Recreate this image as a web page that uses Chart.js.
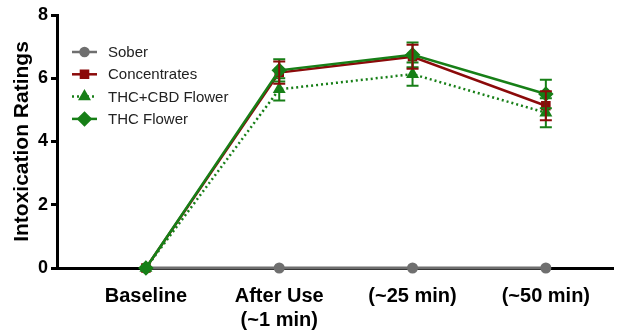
<!DOCTYPE html>
<html>
<head>
<meta charset="utf-8">
<script src="https://cdn.jsdelivr.net/npm/chart.js@4"></script>
<style>
  html, body { margin: 0; padding: 0; background: #fff; }
  #wrap { width: 621px; height: 335px; }
</style>
</head>
<body>
<div id="wrap"><canvas id="chart"></canvas></div>
<script>
// Time points and ratings
const timeLabels = ["Baseline", ["After Use", "(~1 min)"], "(~25 min)", "(~50 min)"];
const sober = [0, 0, 0, 0];
const concentrates = [0, 6.18, 6.68, 5.13];
const thcCbdFlower = [0, 5.65, 6.13, 4.91];
const thcFlower = [0, 6.25, 6.74, 5.5];

// error bars (+/-)
const concentratesErr = [0, 0.35, 0.38, 0.46];
const thcCbdFlowerErr = [0, 0.35, 0.37, 0.46];
const thcFlowerErr = [0, 0.35, 0.39, 0.45];

const GRAY = "#6f6f6f";
const RED = "#8b0a0a";
const GREEN = "#177f17";
const FONT = "'Liberation Sans', Arial, Helvetica, sans-serif";

const toPoints = arr => arr.map((v, i) => ({ x: i, y: v }));

// -----------------------------
// Error bars
// -----------------------------
const errorBars = {
    id: "errorBars",
    afterDatasetsDraw(chart) {
        const ctx = chart.ctx;
        const xs = chart.scales.x, ys = chart.scales.y;
        chart.data.datasets.forEach(ds => {
            if (!ds.errors) return;
            ctx.save();
            ctx.strokeStyle = ds.borderColor;
            ctx.lineWidth = 2;
            ds.errors.forEach((e, i) => {
                if (!e) return;
                const x = xs.getPixelForValue(i);
                const top = ys.getPixelForValue(ds.data[i].y + e);
                const bot = ys.getPixelForValue(ds.data[i].y - e);
                ctx.beginPath();
                ctx.moveTo(x, top); ctx.lineTo(x, bot);
                ctx.moveTo(x - 6, top); ctx.lineTo(x + 6, top);
                ctx.moveTo(x - 6, bot); ctx.lineTo(x + 6, bot);
                ctx.stroke();
            });
            ctx.restore();
        });
    }
};

// -----------------------------
// Legend inside plot
// -----------------------------
const lineLegend = {
    id: "lineLegend",
    afterDraw(chart) {
        const ctx = chart.ctx;
        const items = chart.data.datasets.slice().sort((a, b) => a.legendIndex - b.legendIndex);
        ctx.save();
        items.forEach((ds, k) => {
            const y = 52 + k * 22.3;
            ctx.strokeStyle = ds.borderColor;
            ctx.fillStyle = ds.borderColor;
            ctx.lineWidth = 2.5;
            ctx.setLineDash(ds.borderDash || []);
            ctx.beginPath();
            ctx.moveTo(72, y); ctx.lineTo(97, y);
            ctx.stroke();
            ctx.setLineDash([]);
            Chart.helpers.drawPoint(ctx, {
                pointStyle: ds.pointStyle, radius: ds.pointRadius, rotation: 0, borderWidth: 1
            }, 84.5, y);
            ctx.fillStyle = "#222";
            ctx.font = "15px " + FONT;
            ctx.textBaseline = "middle";
            ctx.fillText(ds.label, 108, y + 1);
        });
        ctx.restore();
    }
};

new Chart(document.getElementById("chart"), {
    type: "line",
    data: {
        datasets: [
            {
                label: "THC Flower", legendIndex: 3, order: 0,
                data: toPoints(thcFlower), errors: thcFlowerErr,
                borderColor: GREEN, backgroundColor: GREEN,
                borderWidth: 2.5, pointStyle: "rectRot", pointRadius: 6
            },
            {
                label: "THC+CBD Flower", legendIndex: 2, order: 1,
                data: toPoints(thcCbdFlower), errors: thcCbdFlowerErr,
                borderColor: GREEN, backgroundColor: GREEN,
                borderWidth: 2.5, borderDash: [2, 3], pointStyle: "triangle", pointRadius: 5
            },
            {
                label: "Concentrates", legendIndex: 1, order: 2,
                data: toPoints(concentrates), errors: concentratesErr,
                borderColor: RED, backgroundColor: RED,
                borderWidth: 2.5, pointStyle: "rect", pointRadius: 5
            },
            {
                label: "Sober", legendIndex: 0, order: 3,
                data: toPoints(sober),
                borderColor: GRAY, backgroundColor: GRAY,
                borderWidth: 3, pointStyle: "circle", pointRadius: 4
            }
        ]
    },
    options: {
        responsive: true,
        maintainAspectRatio: false,
        animation: false,
        clip: false,
        layout: { padding: { top: 15, right: 1, left: 0, bottom: 0 } },
        plugins: {
            legend: { display: false },
            tooltip: { enabled: false }
        },
        elements: { point: { borderWidth: 1 }, line: { tension: 0 } },
        scales: {
            x: {
                type: "linear",
                min: -0.667,
                max: 3.5,
                afterBuildTicks: s => { s.ticks = timeLabels.map((_, i) => ({ value: i })); },
                afterFit: s => { s.height = 67; },
                border: { display: true, color: "#000", width: 3 },
                grid: { display: true, drawOnChartArea: false, tickLength: 4, color: GRAY, lineWidth: 2 },
                ticks: {
                    callback: v => timeLabels[v],
                    color: "#000",
                    padding: 12,
                    maxRotation: 0,
                    autoSkip: false,
                    font: { family: FONT, size: 20, weight: "bold", lineHeight: 1.2 }
                }
            },
            y: {
                min: 0,
                max: 8,
                afterFit: s => { s.width = 57; },
                border: { display: true, color: "#000", width: 3 },
                grid: { display: true, drawOnChartArea: false, tickLength: 6, color: "#000", lineWidth: 3 },
                ticks: {
                    stepSize: 2,
                    color: "#000",
                    padding: 3,
                    font: { family: FONT, size: 18, weight: "bold" }
                },
                title: {
                    display: true,
                    text: "Intoxication Ratings",
                    color: "#000",
                    padding: { top: 10, bottom: 0 },
                    font: { family: FONT, size: 21, weight: "bold" }
                }
            }
        }
    },
    plugins: [errorBars, lineLegend]
});
</script>
</body>
</html>
